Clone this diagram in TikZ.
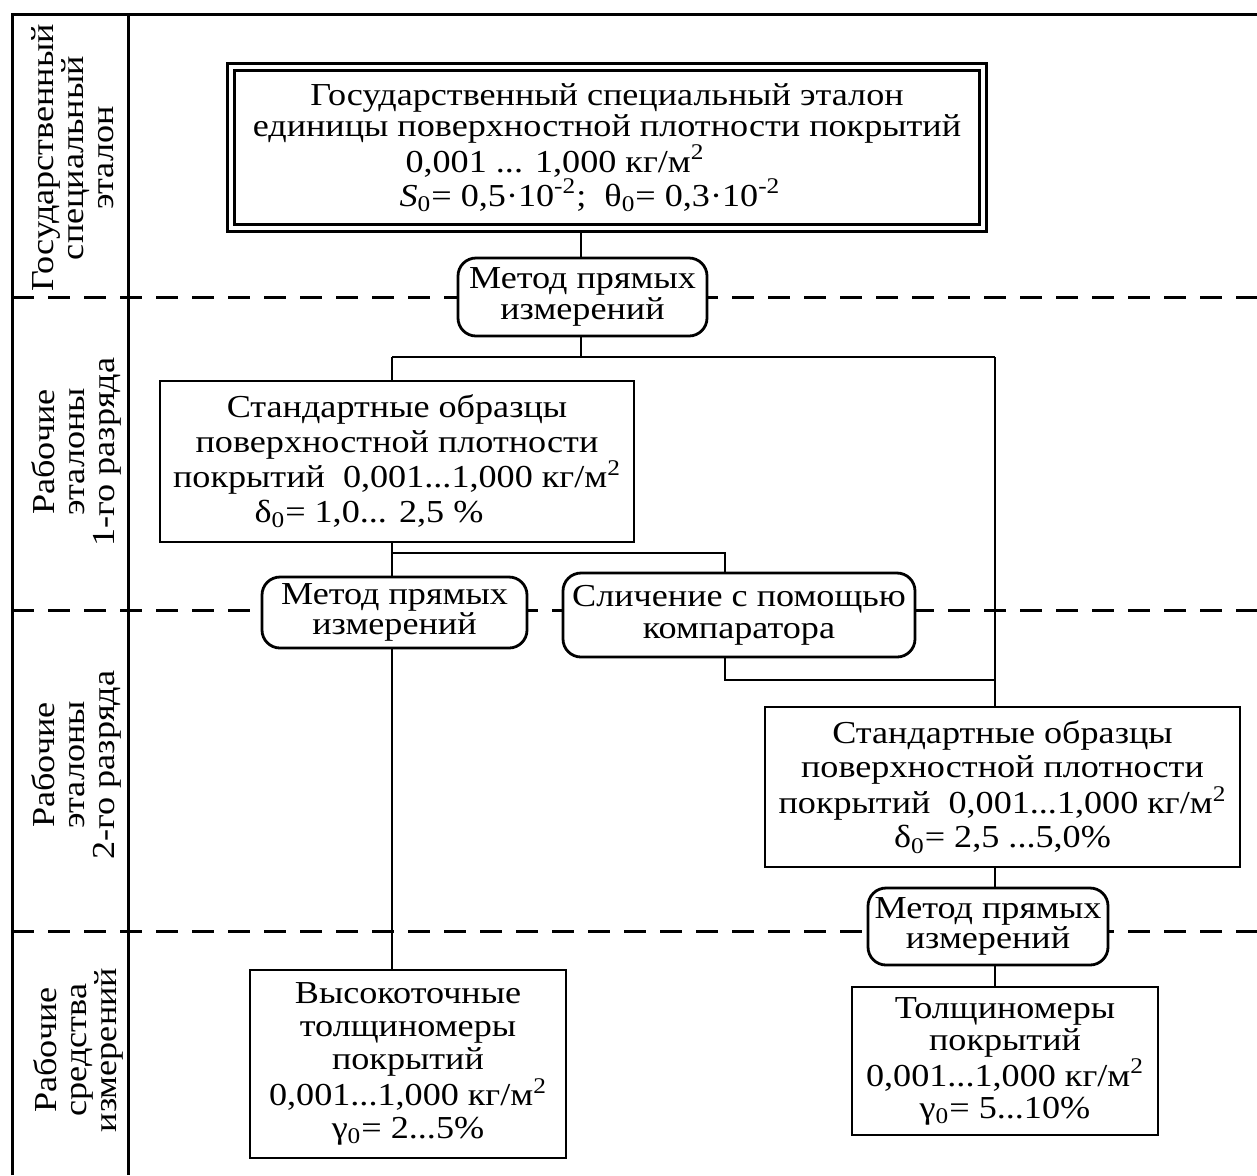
\documentclass[tikz,border=0pt]{standalone}
\usepackage{fontspec}
\setmainfont{Liberation Serif}[FakeStretch=1.13]
\usetikzlibrary{backgrounds}

\tikzset{
  stdbox/.style={draw,line width=1.4pt,fill=white,align=center,inner sep=0pt},
  methodbox/.style={stdbox,rounded corners=9pt,font=\fontsize{16pt}{14pt}\selectfont},
  wire/.style={line width=1.2pt},
  tierline/.style={line width=1.5pt,dash pattern=on 11pt off 7pt},
  tiertext/.style={rotate=90,align=center,font=\fontsize{16pt}{15pt}\selectfont}
}

\begin{document}
\begin{tikzpicture}[x=.5pt,y=-.5pt,font=\fontsize{16pt}{17pt}\selectfont]
  \useasboundingbox (0,0) rectangle (1257,1175);
  % frame
  \draw[line width=1.5pt] (12,1175) -- (12,14) -- (1257,14);
  \draw[line width=1.5pt] (128,14) -- (128,1175);

  % tier names
  \node[tiertext] (t1) at (73,158) {Государственный\\специальный\\эталон};
  \node[tiertext] (t2) at (76,452) {Рабочие\\эталоны\\1-го разряда};
  \node[tiertext] (t3) at (76,765) {Рабочие\\эталоны\\2-го разряда};
  \node[tiertext] (t4) at (78,1050) {Рабочие\\средства\\измерений};

  % boxes
  \node[stdbox,double,double distance=2pt,minimum width=376pt,minimum height=80.5pt,
    font=\fontsize{16pt}{15.5pt}\selectfont] (state) at (607,147.5)
    {Государственный специальный эталон\\единицы поверхностной плотности покрытий\\
     0,001 ... 1,000 кг/м\textsuperscript{2}\hspace*{52pt}\mbox{}\\
     \textit{S}\textsubscript{0}= 0,5·10\textsuperscript{-2};~ θ\textsubscript{0}= 0,3·10\textsuperscript{-2}\hspace*{17pt}\mbox{}};
  \node[methodbox,minimum width=124.5pt,minimum height=39pt] (m1) at (582.5,297)
    {Метод прямых\\измерений};
  \node[stdbox,minimum width=237pt,minimum height=80.5pt,
    font=\fontsize{16pt}{17.5pt}\selectfont] (s1) at (397,461.5)
    {Стандартные образцы\\поверхностной плотности\\
     покрытий~ 0,001...1,000 кг/м\textsuperscript{2}\\
     δ\textsubscript{0}= 1,0... 2,5 \%\hspace*{28pt}\mbox{}};
  \node[methodbox,minimum width=132.5pt,minimum height=35.5pt] (m2) at (394.5,612.5)
    {Метод прямых\\измерений};
  \node[methodbox,minimum width=176pt,minimum height=42pt,
    font=\fontsize{16pt}{16pt}\selectfont] (cmp) at (739,615)
    {Сличение с помощью\\компаратора};
  \node[stdbox,minimum width=237.5pt,minimum height=80pt] (s2) at (1002.5,787)
    {Стандартные образцы\\поверхностной плотности\\
     покрытий~ 0,001...1,000 кг/м\textsuperscript{2}\\
     δ\textsubscript{0}= 2,5 ...5,0\%};
  \node[methodbox,minimum width=120pt,minimum height=38.5pt] (m3) at (988,926.5)
    {Метод прямых\\измерений};
  \node[stdbox,minimum width=158pt,minimum height=94pt,
    font=\fontsize{16pt}{16.5pt}\selectfont] (hi) at (408,1064)
    {Высокоточные\\толщиномеры\\покрытий\\0,001...1,000 кг/м\textsuperscript{2}\\
     γ\textsubscript{0}= 2...5\%};
  \node[stdbox,minimum width=153pt,minimum height=74pt,
    font=\fontsize{16pt}{16pt}\selectfont] (th) at (1005,1061)
    {Толщиномеры\\покрытий\\0,001...1,000 кг/м\textsuperscript{2}\\γ\textsubscript{0}= 5...10\%};

  % junctions
  \coordinate (up) at (581,357);
  \coordinate (ul) at (392,357);
  \coordinate (ur) at (995,357);
  \coordinate (ml) at (392,553);
  \coordinate (mr) at (725,553);
  \coordinate (cr) at (995,680);

  \begin{scope}[on background layer]
    \foreach \y in {297,610,931}
      \draw[tierline] (12,\y) -- (1257,\y);
    \draw[wire] (state.south -| up) -- (m1.north -| up);
    \draw[wire] (m1.south -| up) -- (up);
    \draw[wire] (ul) -- (ur);
    \draw[wire] (ul) -- (s1.north -| ul);
    \draw[wire] (ur) -- (s2.north -| ur);
    \draw[wire] (s1.south -| ml) -- (m2.north -| ml);
    \draw[wire] (ml) -- (mr) -- (cmp.north -| mr);
    \draw[wire] (cmp.south -| mr) |- (cr);
    \draw[wire] (m2.south -| ml) -- (hi.north -| ml);
    \draw[wire] (s2.south -| ur) -- (m3.north -| ur);
    \draw[wire] (m3.south -| ur) -- (th.north -| ur);
  \end{scope}
\end{tikzpicture}
\end{document}
